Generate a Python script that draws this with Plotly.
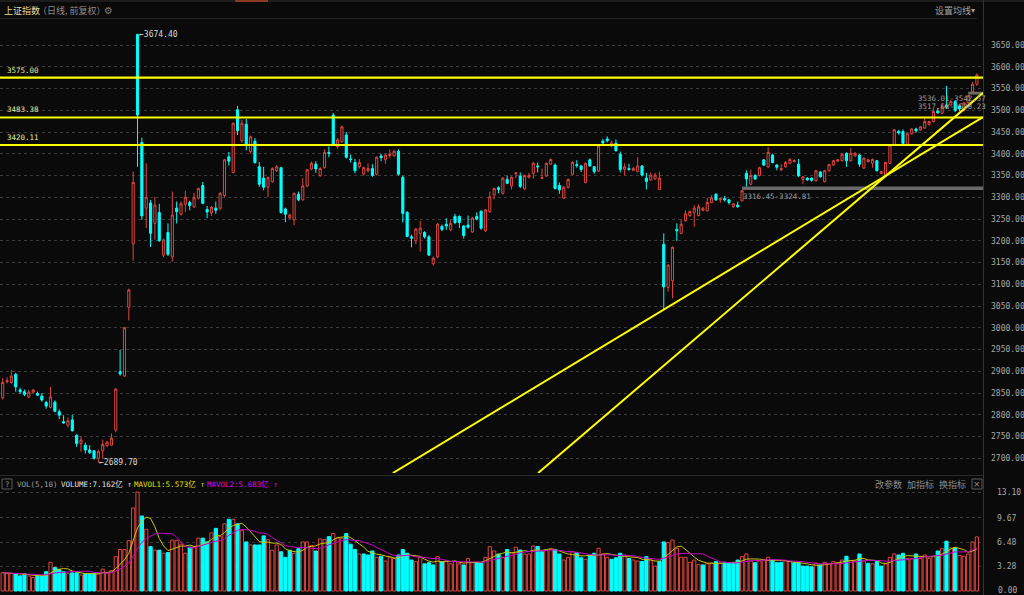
import plotly.graph_objects as go
import pandas as pd

# ---------------- data ----------------
open_ = [
    2839, 2876, 2874, 2893, 2857, 2853, 2841, 2852, 2849, 2843,
    2828, 2817, 2829, 2807, 2784, 2776, 2788, 2753, 2734, 2730,
    2719, 2717, 2700, 2717, 2729, 2730, 2765, 2899, 2889, 3047,
    3193, 3674.4, 3426, 3275, 3287, 3240, 3265, 3167, 3219, 3163,
    3275, 3261, 3284, 3288, 3278, 3298, 3327, 3272, 3264, 3275,
    3275, 3304, 3393, 3357, 3501, 3430, 3468, 3405, 3429, 3370,
    3344, 3323, 3336, 3361, 3368, 3273, 3253, 3248, 3307, 3294,
    3326, 3365, 3376, 3350, 3368, 3403, 3489, 3416, 3428, 3443,
    3388, 3380, 3370, 3353, 3361, 3366, 3353, 3395, 3387, 3396,
    3395, 3406, 3346, 3265, 3209, 3200, 3217, 3219, 3209, 3147,
    3163, 3233, 3238, 3225, 3256, 3256, 3234, 3236, 3220, 3256,
    3268, 3223, 3267, 3305, 3322, 3309, 3341, 3326, 3354, 3349,
    3319, 3346, 3355, 3372, 3343, 3349, 3376, 3374, 3327, 3298,
    3323, 3353, 3375, 3372, 3334, 3386, 3370, 3360, 3429, 3434,
    3418, 3424, 3399, 3364, 3366, 3362, 3359, 3372, 3344, 3340,
    3342, 3318, 3192, 3093, 3108, 3226, 3217, 3246, 3258, 3265,
    3258, 3270, 3269, 3288, 3307, 3294, 3297, 3294, 3278, 3282,
    3292, 3355, 3330, 3350, 3350, 3386, 3370, 3397, 3374, 3363,
    3370, 3378, 3382, 3376, 3341, 3344, 3344, 3338, 3358, 3336,
    3361, 3374, 3383, 3384, 3401, 3384, 3395, 3397, 3367, 3382,
    3378, 3384, 3355, 3351, 3378, 3420, 3451, 3451, 3422, 3446,
    3457, 3455, 3459, 3467, 3474, 3498, 3493, 3512, 3512, 3520,
    3510, 3500, 3517.68, 3542.57, 3560,
]
high = [
    2884, 2886, 2903, 2896, 2862, 2858, 2857, 2859, 2853, 2850,
    2832, 2864, 2833, 2812, 2799, 2794, 2800, 2755, 2751, 2736,
    2730, 2719, 2720, 2743, 2740, 2757, 2861, 2949, 3002, 3090,
    3359, 3674.4, 3437, 3378, 3294, 3301, 3285, 3205, 3240, 3313,
    3290, 3290, 3315, 3292, 3310, 3322, 3335, 3280, 3280, 3290,
    3311, 3388, 3404, 3472, 3510, 3478, 3480, 3442, 3436, 3381,
    3370, 3348, 3369, 3374, 3370, 3276, 3262, 3311, 3313, 3344,
    3365, 3382, 3383, 3369, 3410, 3417, 3494, 3436, 3465, 3450,
    3398, 3388, 3388, 3370, 3378, 3376, 3394, 3400, 3399, 3410,
    3408, 3410, 3350, 3268, 3214, 3229, 3246, 3222, 3213, 3164,
    3241, 3237, 3252, 3248, 3262, 3258, 3236, 3258, 3255, 3265,
    3270, 3273, 3313, 3322, 3325, 3346, 3350, 3348, 3357, 3357,
    3352, 3356, 3381, 3380, 3366, 3380, 3389, 3378, 3334, 3325,
    3343, 3383, 3385, 3374, 3380, 3389, 3372, 3420, 3434, 3440,
    3430, 3433, 3405, 3378, 3377, 3370, 3392, 3374, 3356, 3357,
    3356, 3359, 3217, 3146, 3187, 3240, 3249, 3270, 3270, 3282,
    3284, 3277, 3299, 3305, 3309, 3299, 3303, 3296, 3287, 3290,
    3316.45, 3362, 3363, 3353, 3370, 3388, 3415, 3400, 3376, 3376,
    3383, 3390, 3387, 3388, 3349, 3346, 3346, 3363, 3360, 3363,
    3377, 3386, 3388, 3401, 3403, 3413, 3404, 3399, 3392, 3388,
    3389, 3386, 3361, 3382, 3422, 3457, 3455, 3456, 3448, 3459,
    3460, 3464, 3485, 3476, 3503, 3505, 3517, 3556, 3523, 3522,
    3514, 3519, 3536.01, 3565, 3585,
]
low = [
    2835, 2872, 2871, 2853, 2848, 2843, 2838, 2849, 2843, 2830,
    2814, 2815, 2806, 2790, 2780, 2771, 2762, 2726, 2715, 2711,
    2710, 2697, 2689.7, 2700, 2726, 2728, 2760, 2890, 2887, 3017,
    3154, 3370, 3248, 3229, 3186, 3202, 3198, 3162, 3165, 3152,
    3240, 3258, 3266, 3270, 3275, 3295, 3284, 3252, 3257, 3262,
    3270, 3300, 3373, 3355, 3443, 3425, 3408, 3400, 3377, 3324,
    3316, 3300, 3333, 3358, 3262, 3243, 3250, 3236, 3291, 3292,
    3323, 3362, 3356, 3347, 3366, 3392, 3418, 3412, 3425, 3389,
    3380, 3355, 3366, 3350, 3357, 3347, 3350, 3383, 3377, 3391,
    3393, 3350, 3242, 3208, 3185, 3192, 3175, 3205, 3165, 3143,
    3160, 3222, 3225, 3222, 3238, 3229, 3205, 3228, 3218, 3247,
    3225, 3220, 3264, 3295, 3309, 3306, 3330, 3318, 3344, 3321,
    3317, 3343, 3343, 3357, 3342, 3347, 3374, 3318, 3308, 3296,
    3320, 3351, 3368, 3358, 3332, 3370, 3354, 3358, 3421, 3426,
    3415, 3405, 3357, 3350, 3361, 3360, 3357, 3348, 3318, 3338,
    3340, 3317, 3041, 3083, 3068, 3200, 3215, 3244, 3255, 3232,
    3256, 3268, 3267, 3286, 3292, 3287, 3290, 3283, 3276, 3276,
    3290, 3324.81, 3328, 3340, 3348, 3372, 3368, 3378, 3362, 3360,
    3368, 3376, 3380, 3347, 3330, 3338, 3336, 3336, 3345, 3334,
    3359, 3372, 3381, 3382, 3370, 3382, 3393, 3370, 3365, 3380,
    3368, 3359, 3353, 3349, 3376, 3418, 3444, 3421, 3420, 3444,
    3448, 3453, 3457, 3465, 3472, 3492, 3491, 3503, 3510, 3496,
    3498, 3497, 3515, 3542.57, 3556,
]
close = [
    2874, 2878, 2889, 2864, 2853, 2847, 2852, 2857, 2845, 2834,
    2820, 2841, 2808, 2799, 2781, 2786, 2763, 2734, 2742, 2719,
    2713, 2700, 2715, 2732, 2737, 2746, 2859, 2894, 3000, 3087,
    3334, 3489, 3257, 3300, 3217, 3282, 3200, 3202, 3169, 3259,
    3267, 3285, 3300, 3281, 3299, 3320, 3286, 3266, 3277, 3270,
    3309, 3386, 3383, 3470, 3453, 3470, 3420, 3439, 3380, 3330,
    3323, 3345, 3366, 3370, 3265, 3261, 3259, 3309, 3294, 3326,
    3363, 3378, 3365, 3366, 3403, 3401, 3420, 3432, 3462, 3392,
    3387, 3361, 3380, 3368, 3366, 3350, 3392, 3391, 3397, 3399,
    3406, 3353, 3263, 3210, 3206, 3227, 3229, 3209, 3167, 3160,
    3238, 3226, 3234, 3240, 3242, 3242, 3212, 3231, 3252, 3250,
    3229, 3271, 3301, 3320, 3318, 3344, 3332, 3346, 3356, 3325,
    3350, 3350, 3378, 3370, 3345, 3378, 3387, 3320, 3317, 3323,
    3341, 3380, 3373, 3364, 3378, 3372, 3359, 3418, 3425, 3430,
    3425, 3407, 3364, 3370, 3364, 3366, 3372, 3351, 3336, 3351,
    3351, 3344, 3094, 3144, 3185, 3223, 3238, 3262, 3267, 3275,
    3278, 3275, 3288, 3299, 3294, 3297, 3294, 3288, 3285, 3278,
    3315, 3342, 3350, 3342, 3368, 3374, 3403, 3380, 3369, 3366,
    3380, 3387, 3384, 3349, 3347, 3340, 3339, 3361, 3347, 3361,
    3375, 3384, 3386, 3399, 3384, 3401, 3401, 3376, 3390, 3386,
    3387, 3361, 3359, 3380, 3420, 3455, 3448, 3424, 3446, 3457,
    3453, 3462, 3474, 3474, 3497, 3494, 3508, 3507, 3520, 3500,
    3503, 3517, 3533, 3560, 3581,
]
volume = [  # 亿
    2.42, 2.34, 2.3, 2.3, 2.0, 2.3, 2.0, 1.8, 2.0, 2.0,
    2.56, 3.8, 3.1, 2.87, 2.56, 2.3, 2.4, 2.4, 2.1, 2.3,
    2.3, 2.3, 2.3, 2.9, 2.4, 2.7, 4.55, 5.5, 5.5, 6.67,
    11.0, 13.1, 9.93, 8.17, 5.87, 5.4, 5.4, 5.0, 5.1, 6.75,
    6.7, 6.2, 5.0, 5.8, 5.8, 7.0, 7.0, 6.5, 7.7, 8.3,
    7.2, 8.9, 9.5, 9.5, 8.9, 8.0, 6.5, 6.1, 6.1, 6.1,
    7.3, 6.8, 5.4, 6.1, 5.2, 4.46, 5.4, 5.0, 5.6, 6.5,
    6.5, 6.0, 5.3, 6.9, 6.8, 7.2, 7.6, 7.0, 7.0, 7.6,
    6.2, 5.5, 4.9, 4.9, 4.77, 5.3, 4.46, 4.6, 3.97, 4.46,
    4.3, 4.77, 5.5, 5.0, 4.1, 3.9, 4.46, 3.6, 3.75, 3.45,
    4.55, 3.9, 4.0, 3.6, 3.9, 3.6, 3.45, 4.3, 3.75, 3.75,
    3.75, 4.46, 5.87, 5.3, 4.9, 4.46, 5.5, 5.07, 5.8, 5.43,
    4.9, 4.9, 5.96, 5.9, 5.2, 5.43, 5.5, 5.5, 4.9, 4.1,
    4.46, 5.2, 5.07, 4.4, 4.2, 4.77, 5.0, 5.65, 4.9, 4.46,
    4.2, 4.4, 5.0, 4.77, 4.3, 4.1, 3.97, 3.9, 4.55, 4.1,
    3.3, 3.9, 6.5, 6.4, 6.75, 5.65, 4.46, 4.46, 3.8, 4.1,
    3.5, 3.45, 3.6, 3.7, 3.9, 3.7, 3.8, 3.75, 3.75, 4.1,
    4.55, 4.9, 3.97, 3.75, 3.97, 4.1, 4.46, 4.1, 3.75, 3.8,
    4.0, 3.9, 3.75, 3.75, 3.3, 3.3, 3.2, 3.7, 3.45, 3.8,
    3.6, 3.9, 3.7, 4.1, 4.6, 4.0, 4.0, 4.9, 4.0, 3.67,
    3.6, 4.0, 3.3, 3.6, 4.46, 4.9, 4.77, 5.0, 4.3, 4.3,
    4.9, 4.3, 4.77, 4.3, 4.6, 5.3, 5.6, 6.6, 5.7, 5.77,
    4.7, 4.6, 4.9, 6.5, 7.162,
]

price_ticks = [2700, 2750, 2800, 2850, 2900, 2950, 3000, 3050, 3100, 3150,
               3200, 3250, 3300, 3350, 3400, 3450, 3500, 3550, 3600, 3650]
vol_ticks = [3.28, 6.48, 9.67, 13.10]
vol_zero_label = "0.00"
levels = [3575.00, 3483.38, 3420.11]
# drawn trend lines: (start index, start price) -> (end index, end price)
trend_lines = [((89.7, 2666.0), (225.4, 3484.5)),
               ((123.1, 2666.0), (225.4, 3540.0))]
gaps = [(170, 3316.45, 3324.81), (222, 3536.01, 3542.57)]
gap_labels = ["3316.45-3324.81", "3536.01-3542.57", "3517.68-3508.23"]

# ---------------- style ----------------
W, H = 1024, 595
BG = '#0a0a0a'
RED = '#e0453f'
CYAN = '#00ffff'
YEL = '#ffff00'
GRID = '#3a3a3a'
MONO = 'DejaVu Sans Mono'
CJK = 'Noto Sans CJK SC'
PLOT_R = 983


def fx(p):
    return p / W


def fy(p):
    return 1 - p / H


idx = list(range(len(close)))
XR = [-0.62, 225.4]

fig = go.Figure()

fig.add_trace(go.Candlestick(
    x=idx, open=open_, high=high, low=low, close=close,
    increasing=dict(line=dict(color=RED, width=1), fillcolor=BG),
    decreasing=dict(line=dict(color=CYAN, width=1), fillcolor=CYAN),
    whiskerwidth=0, hoverinfo='skip', xaxis='x', yaxis='y'))

# trend lines
for (x0, y0), (x1, y1) in trend_lines:
    fig.add_trace(go.Scatter(x=[x0, x1], y=[y0, y1], mode='lines',
                             line=dict(color=YEL, width=2), hoverinfo='skip',
                             xaxis='x', yaxis='y'))

# volume
prev = [open_[0]] + close[:-1]
up = [c >= p for c, p in zip(close, prev)]
fig.add_trace(go.Bar(
    x=idx, y=volume, width=0.74,
    marker=dict(color=[BG if u else CYAN for u in up],
                line=dict(color=[RED if u else CYAN for u in up], width=1)),
    hoverinfo='skip', xaxis='x2', yaxis='y2'))
vs = pd.Series(volume)
ma5 = vs.rolling(5, min_periods=1).mean()
ma10 = vs.rolling(10, min_periods=1).mean()
fig.add_trace(go.Scatter(x=idx, y=ma5, mode='lines', line=dict(color='#c8c800', width=1),
                         hoverinfo='skip', xaxis='x2', yaxis='y2'))
fig.add_trace(go.Scatter(x=idx, y=ma10, mode='lines', line=dict(color='#c800c8', width=1),
                         hoverinfo='skip', xaxis='x2', yaxis='y2'))

tickfont = dict(family=MONO, size=8, color='#a8a8a8')
fig.update_layout(
    width=W, height=H, margin=dict(l=0, r=0, t=0, b=0),
    paper_bgcolor=BG, plot_bgcolor=BG, showlegend=False,
    xaxis=dict(domain=[0, fx(PLOT_R)], range=XR, showgrid=False, showticklabels=False,
               zeroline=False, rangeslider=dict(visible=False), anchor='y', automargin=False),
    yaxis=dict(domain=[fy(473), fy(20)], range=[2666.1, 3707.5], side='right', anchor='x',
               tickvals=price_ticks, ticktext=[f"{v:.2f}" for v in price_ticks],
               showgrid=True, gridcolor=GRID, griddash='dot', gridwidth=1,
               zeroline=False, ticks='', tickfont=tickfont, ticklabelstandoff=7,
               ticklabeloverflow='allow', automargin=False),
    xaxis2=dict(domain=[0, fx(PLOT_R)], range=XR, showgrid=False, showticklabels=False,
                zeroline=False, anchor='y2', automargin=False),
    yaxis2=dict(domain=[fy(592), fy(488)], range=[-0.1325, 13.642], side='right', anchor='x2',
                tickvals=vol_ticks, ticktext=[f"{v:.2f}" for v in vol_ticks],
                showgrid=True, gridcolor=GRID, griddash='dot', gridwidth=1,
                zeroline=False, ticks='', tickfont=tickfont, ticklabelstandoff=13,
                ticklabeloverflow='allow', automargin=False),
)

shapes = []
# horizontal support / resistance lines
for lv in levels:
    shapes.append(dict(type='line', xref='paper', yref='y', x0=0, x1=fx(PLOT_R), y0=lv, y1=lv,
                       line=dict(color=YEL, width=2.2)))
# gap bands
for gx, g0, g1 in gaps:
    shapes.append(dict(type='rect', xref='x', yref='y', x0=gx, x1=XR[1], y0=g0, y1=g1,
                       fillcolor='#6a6a6a', line=dict(width=0), layer='below'))
# frame lines
shapes += [
    dict(type='line', xref='paper', yref='paper', x0=0, x1=1, y0=fy(1), y1=fy(1),
         line=dict(color='#2e2e2e', width=1)),
    dict(type='line', xref='paper', yref='paper', x0=fx(235), x1=fx(268), y0=fy(1), y1=fy(1),
         line=dict(color='#8a3a1e', width=2)),
    dict(type='line', xref='paper', yref='paper', x0=0, x1=fx(977), y0=fy(18.5), y1=fy(18.5),
         line=dict(color='#222222', width=1)),
    dict(type='line', xref='paper', yref='paper', x0=0, x1=fx(PLOT_R), y0=fy(475.5), y1=fy(475.5),
         line=dict(color='#2a2a2a', width=1)),
    dict(type='line', xref='paper', yref='paper', x0=fx(PLOT_R + 0.5), x1=fx(PLOT_R + 0.5), y0=0, y1=1,
         line=dict(color='#333333', width=1)),
    dict(type='rect', xref='paper', yref='paper', x0=fx(2), x1=fx(12), y0=fy(489), y1=fy(479),
         line=dict(color='#5a5a5a', width=1)),
    dict(type='rect', xref='paper', yref='paper', x0=fx(972), x1=fx(982), y0=fy(489), y1=fy(479),
         line=dict(color='#5a5a5a', width=1)),
]
fig.update_layout(shapes=shapes)


def txt(x, y, s, color, size, family=MONO, xanchor='left'):
    fig.add_annotation(x=fx(x), y=fy(y), xref='paper', yref='paper', text=s, showarrow=False,
                       font=dict(color=color, size=size, family=family),
                       xanchor=xanchor, yanchor='middle', borderpad=0)


# header
txt(3, 10, "上证指数", '#e6dea0', 9, CJK)
txt(37, 10, "（日线, 前复权）", '#8c8c8c', 9, CJK)
txt(103, 10, "⚙", '#7a7a7a', 10, 'DejaVu Sans')
txt(934, 10, "设置均线", '#a0a0a0', 9, CJK)
txt(970, 10, "▾", '#a0a0a0', 8, 'DejaVu Sans')

# volume axis zero label (kept inside the page)
fig.add_annotation(x=fx(997), y=0, xref='paper', yref='y2', text=vol_zero_label, showarrow=False,
                   font=tickfont, xanchor='left', yanchor='middle', yshift=1, borderpad=0)

# level labels
for lv in levels:
    fig.add_annotation(x=fx(6), y=lv, xref='paper', yref='y', text=f"{lv:.2f}", showarrow=False,
                       font=dict(color='#e8e8a0', size=7.5, family=MONO),
                       xanchor='left', yanchor='bottom', yshift=2, borderpad=0)

# extreme labels
fig.add_annotation(x=31, y=3674.4, xref='x', yref='y', text="←3674.40", showarrow=False,
                   font=dict(color='#d8d8d8', size=8, family=MONO), xanchor='left', xshift=0,
                   yanchor='middle', borderpad=0)
fig.add_annotation(x=22, y=2689.7, xref='x', yref='y', text="←2689.70", showarrow=False,
                   font=dict(color='#d8d8d8', size=8, family=MONO), xanchor='left', xshift=0,
                   yanchor='middle', borderpad=0)

# gap labels
fig.add_annotation(x=170, y=3316.45, xref='x', yref='y', text=gap_labels[0], showarrow=False,
                   font=dict(color='#9a9a9a', size=7.5, family=MONO), xanchor='left',
                   yanchor='top', yshift=-1, borderpad=0)
fig.add_annotation(x=210.3, y=3528, xref='x', yref='y', text=gap_labels[1], showarrow=False,
                   font=dict(color='#9a9a9a', size=7.5, family=MONO), xanchor='left',
                   yanchor='middle', borderpad=0)
fig.add_annotation(x=210.3, y=3508, xref='x', yref='y', text=gap_labels[2], showarrow=False,
                   font=dict(color='#9a9a9a', size=7.5, family=MONO), xanchor='left',
                   yanchor='middle', borderpad=0)

# volume header
txt(7, 484, "?", '#8a8a8a', 7.5, MONO, 'center')
txt(16, 484, "VOL(5,10)", '#a0a0a0', 7.5)
txt(60, 484, "VOLUME:7.162亿 ↑", '#e0e0e0', 7.5, MONO + ", " + CJK)
txt(133, 484, "MAVOL1:5.573亿 ↑", '#e0e000', 7.5, MONO + ", " + CJK)
txt(206, 484, "MAVOL2:5.683亿 ↑", '#e000e0', 7.5, MONO + ", " + CJK)
txt(874, 484, "改参数", '#8c8c8c', 9, CJK)
txt(906, 484, "加指标", '#8c8c8c', 9, CJK)
txt(938, 484, "换指标", '#8c8c8c', 9, CJK)
txt(977, 484, "×", '#8c8c8c', 9, 'DejaVu Sans', 'center')

fig.write_html(
    "out.html",
    config={'displayModeBar': False, 'staticPlot': True},
    post_script="document.body.style.margin='0';document.body.style.padding='0';"
                "document.body.style.overflow='hidden';document.body.style.background='" + BG + "';")
